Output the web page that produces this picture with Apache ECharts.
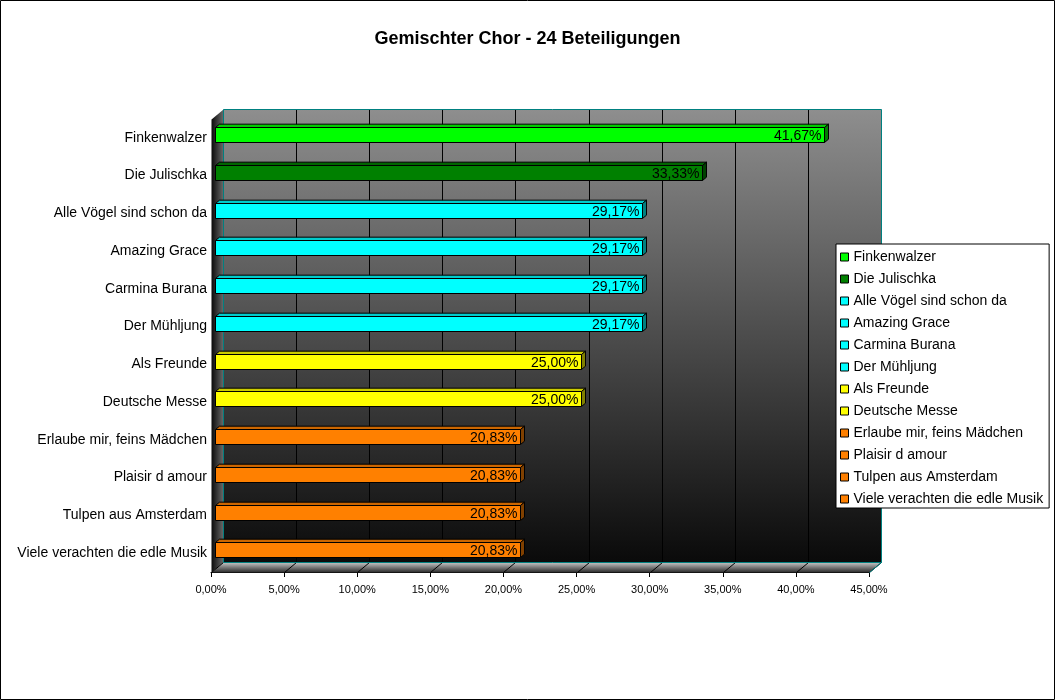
<!DOCTYPE html>
<html>
<head>
<meta charset="utf-8">
<title>Gemischter Chor</title>
<script src="https://cdn.jsdelivr.net/npm/echarts@6/dist/echarts.min.js"></script>
<style>html,body{margin:0;padding:0;background:#fff;}</style>
</head>
<body>
<div id="main" style="width:1055px;height:700px;"></div>
<script type="text/javascript">
var titleText = 'Gemischter Chor - 24 Beteiligungen';
var songs = ['Finkenwalzer', 'Die Julischka', 'Alle Vögel sind schon da', 'Amazing Grace',
    'Carmina Burana', 'Der Mühljung', 'Als Freunde', 'Deutsche Messe',
    'Erlaube mir, feins Mädchen', 'Plaisir d amour', 'Tulpen aus Amsterdam', 'Viele verachten die edle Musik'];
var shares = [41.67, 33.33, 29.17, 29.17, 29.17, 29.17, 25.00, 25.00, 20.83, 20.83, 20.83, 20.83];
var barColors = ['#00ff00', '#008000', '#00ffff', '#00ffff', '#00ffff', '#00ffff',
    '#ffff00', '#ffff00', '#ff8000', '#ff8000', '#ff8000', '#ff8000'];
var xTicks = [0, 5, 10, 15, 20, 25, 30, 35, 40, 45];

// depth of the 3d box (pixels right / up)
var DEPTH = [12, -10];
var FONT = '"Liberation Sans", Arial, sans-serif';

function pct(v) {
    return v.toFixed(2).replace('.', ',') + '%';
}

function shade(hex, k) {
    var n = parseInt(hex.slice(1), 16);
    var r = Math.round(((n >> 16) & 255) * k);
    var g = Math.round(((n >> 8) & 255) * k);
    var b = Math.round((n & 255) * k);
    return 'rgb(' + r + ',' + g + ',' + b + ')';
}

// back wall, left wall and floor
function renderWalls(params, api) {
    var cs = params.coordSys;
    var x0 = Math.round(cs.x) + 0.5, x1 = Math.round(cs.x + cs.width) + 0.5;
    var y0 = Math.round(cs.y) + 0.5, y1 = Math.round(cs.y + cs.height) + 0.5;
    var dx = DEPTH[0], dy = DEPTH[1];
    var ch = [];
    ch.push({
        type: 'rect',
        shape: {x: x0 + dx, y: y0 + dy, width: x1 - x0, height: y1 - y0},
        style: {fill: new echarts.graphic.LinearGradient(0, 0, 0, 1, [
            {offset: 0, color: '#8e8e8e'}, {offset: 1, color: '#0a0a0a'}])}
    });
    ch.push({
        type: 'polygon',
        shape: {points: [[x0, y0], [x0 + dx, y0 + dy], [x0 + dx, y1 + dy], [x0, y1]]},
        style: {fill: new echarts.graphic.LinearGradient(0, 0, 1, 0, [
            {offset: 0, color: '#0a0a0a'}, {offset: 1, color: '#6a6a6a'}])}
    });
    ch.push({
        type: 'polygon',
        shape: {points: [[x0, y1], [x0 + dx, y1 + dy], [x1 + dx, y1 + dy], [x1, y1]]},
        style: {fill: new echarts.graphic.LinearGradient(0, 0, 0, 1, [
            {offset: 0, color: '#c4c4c4'}, {offset: 1, color: '#2a2a2a'}])}
    });
    xTicks.forEach(function (t) {
        var px = Math.round(api.coord([t, 0])[0]) + 0.5;
        if (t > 0 && t < 45) {
            ch.push({type: 'line', shape: {x1: px + dx, y1: y0 + dy, x2: px + dx, y2: y1 + dy},
                style: {stroke: '#000', lineWidth: 1}});
        }
        ch.push({type: 'line', shape: {x1: px, y1: y1, x2: px + dx, y2: y1 + dy},
            style: {stroke: '#000', lineWidth: 1}});
    });
    ch.push({
        type: 'polyline',
        shape: {points: [[x0 + dx, y1 + dy], [x0 + dx, y0 + dy], [x1 + dx, y0 + dy], [x1 + dx, y1 + dy], [x1, y1]]},
        style: {stroke: '#008080', fill: null, lineWidth: 1}
    });
    ch.push({type: 'line', shape: {x1: x0 + dx, y1: y1 + dy, x2: x1 + dx, y2: y1 + dy},
        style: {stroke: '#008080', lineWidth: 1}});
    return {type: 'group', children: ch};
}

// one 3d bar: front, top and side faces plus its value
function renderBar(params, api) {
    var v = api.value(0), c = api.value(1);
    var start = api.coord([0, c]), end = api.coord([v, c]);
    var band = api.size([0, 1])[1];
    var h = Math.round(band * 0.4);
    var ox = DEPTH[0] / 3, oy = DEPTH[1] / 3;
    var xa = Math.round(start[0] + ox) + 0.5, xb = Math.round(end[0] + ox) + 0.5;
    var yc = start[1] + oy;
    var yt = Math.round(yc - h / 2) + 0.5, yb = yt + h;
    var base = api.visual('color');
    var line = {stroke: '#000', lineWidth: 1};
    return {
        type: 'group',
        children: [
            {type: 'polygon', shape: {points: [[xa, yt], [xb, yt], [xb + ox, yt + oy], [xa + ox, yt + oy]]},
                style: Object.assign({fill: shade(base, 0.8)}, line)},
            {type: 'polygon', shape: {points: [[xb, yt], [xb + ox, yt + oy], [xb + ox, yb + oy], [xb, yb]]},
                style: Object.assign({fill: shade(base, 0.5)}, line)},
            {type: 'rect', shape: {x: xa, y: yt, width: xb - xa, height: h},
                style: Object.assign({fill: base}, line)},
            {type: 'text', style: {text: pct(v), x: xb - 3, y: yt + h / 2 + 1, align: 'right', verticalAlign: 'middle',
                fill: '#000', fontSize: 14, fontFamily: FONT}}
        ]
    };
}

var series = [{
    type: 'custom',
    name: 'walls',
    renderItem: renderWalls,
    data: [[0, 0]],
    silent: true,
    clip: false,
    z: 1
}];
for (var i = 0; i < songs.length; i++) {
    series.push({
        type: 'custom',
        name: songs[i],
        renderItem: renderBar,
        itemStyle: {color: barColors[i]},
        data: [[shares[i], i]],
        encode: {x: 0, y: 1},
        silent: true,
        clip: false,
        z: 3
    });
}

var option = {
    animation: false,
    backgroundColor: '#fff',
    title: {
        text: titleText,
        left: 'center',
        top: 25,
        textStyle: {fontSize: 18, fontWeight: 'bold', color: '#000', fontFamily: FONT}
    },
    grid: {
        left: 211,
        right: 186,
        top: 119,
        bottom: 128,
        containLabel: false,
        outerBoundsMode: 'none'
    },
    xAxis: {
        type: 'value',
        min: 0,
        max: 45,
        interval: 5,
        axisLine: {show: true, lineStyle: {color: '#000', width: 1}},
        axisTick: {show: true, length: 5, lineStyle: {color: '#000'}},
        splitLine: {show: false},
        axisLabel: {
            formatter: function (v) { return pct(v); },
            color: '#000',
            fontSize: 11,
            fontFamily: FONT,
            margin: 12
        }
    },
    yAxis: {
        type: 'category',
        inverse: true,
        data: songs,
        axisLine: {show: false},
        axisTick: {show: false},
        splitLine: {show: false},
        axisLabel: {
            color: '#000',
            fontSize: 14,
            fontFamily: FONT,
            margin: 4,
            padding: [0, 0, 8, 0]
        }
    },
    legend: {
        data: songs,
        orient: 'vertical',
        left: 836,
        top: 244,
        icon: 'rect',
        itemWidth: 8,
        itemHeight: 8,
        itemGap: 8,
        padding: [6, 6, 2, 4],
        backgroundColor: '#fff',
        borderColor: '#000',
        borderWidth: 1,
        selectedMode: false,
        itemStyle: {borderColor: '#000', borderWidth: 1},
        textStyle: {fontSize: 14, color: '#000', fontFamily: FONT, lineHeight: 14}
    },
    graphic: [{
        type: 'rect',
        shape: {x: 0.5, y: 0.5, width: 1054, height: 699},
        style: {fill: null, stroke: '#000', lineWidth: 1},
        silent: true,
        z: 100
    }],
    series: series
};

var myChart = echarts.init(document.getElementById('main'));
myChart.setOption(option);
</script>
</body>
</html>
